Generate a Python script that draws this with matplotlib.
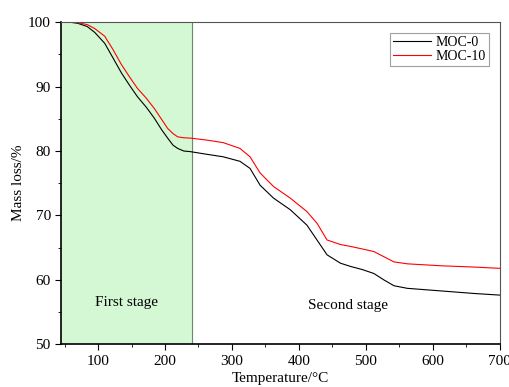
import matplotlib
matplotlib.use('Agg')
import matplotlib.pyplot as plt
from matplotlib.ticker import MultipleLocator

plt.rcParams['font.family'] = ['Liberation Serif', 'DejaVu Serif']

# TGA curves
temp = [45, 60, 70, 84, 95, 110, 122, 135, 147, 159, 172, 184, 195, 204, 212, 219, 228, 238,
        262, 287, 312, 327, 342, 362, 387, 412, 427, 442, 462, 477, 495, 512, 527, 542,
        562, 612, 662, 700]
moc0 = [100, 99.95, 99.8, 99.3, 98.4, 96.7, 94.5, 92.1, 90.2, 88.4, 86.8, 85.1, 83.3, 82.0,
        80.9, 80.4, 80.0, 79.9, 79.5, 79.1, 78.4, 77.3, 74.7, 72.7, 70.9, 68.5, 66.2, 63.9,
        62.6, 62.1, 61.6, 61.0, 60.0, 59.1, 58.7, 58.3, 57.9, 57.65]
moc10 = [100, 99.97, 99.9, 99.6, 99.0, 97.8, 95.8, 93.4, 91.5, 89.7, 88.2, 86.6, 84.9, 83.5,
         82.7, 82.2, 82.05, 82.0, 81.7, 81.3, 80.4, 79.1, 76.6, 74.5, 72.7, 70.6, 68.8, 66.2,
         65.5, 65.2, 64.8, 64.4, 63.6, 62.8, 62.5, 62.2, 62.0, 61.8]

stage_edge = 240

fig, ax = plt.subplots(figsize=(5.1, 3.87), dpi=100)
fig.subplots_adjust(left=0.12, right=0.98, top=0.943, bottom=0.11)

ax.axvspan(45, stage_edge, color='#d4f8d4', zorder=0)
ax.axvline(stage_edge, color='#6b8a6b', lw=0.8, zorder=1)

ax.plot(temp, moc0, color='black', lw=0.8, label='MOC-0')
ax.plot(temp, moc10, color='red', lw=0.8, label='MOC-10')

ax.set_xlim(45, 700)
ax.set_ylim(50, 100)
ax.xaxis.set_major_locator(MultipleLocator(100))
ax.xaxis.set_minor_locator(MultipleLocator(50))
ax.yaxis.set_major_locator(MultipleLocator(10))
ax.yaxis.set_minor_locator(MultipleLocator(5))
ax.tick_params(which='both', direction='out', labelsize=11, top=False, right=False)
ax.tick_params(which='major', length=4)
ax.tick_params(which='minor', length=2.5)

for s in ['top', 'right']:
    ax.spines[s].set_color('#555555')
ax.spines['left'].set_linewidth(1.2)
ax.spines['bottom'].set_linewidth(1.2)

ax.set_xlabel('Temperature/°C', fontsize=11, labelpad=-1)
ax.set_ylabel('Mass loss/%', fontsize=11, labelpad=2)
ax.xaxis.set_label_coords(0.5, -0.085)

ax.text(143, 56.5, 'First stage', fontsize=11, ha='center', va='center')
ax.text(474, 56, 'Second stage', fontsize=11, ha='center', va='center')

leg = ax.legend(loc='upper right', fontsize=10, frameon=True, fancybox=False,
                edgecolor='#888888', borderpad=0.2, handlelength=2.8,
                handletextpad=0.3, labelspacing=0.1, borderaxespad=0.8)
leg.get_frame().set_linewidth(0.8)

fig.savefig('out.png', dpi=100)
